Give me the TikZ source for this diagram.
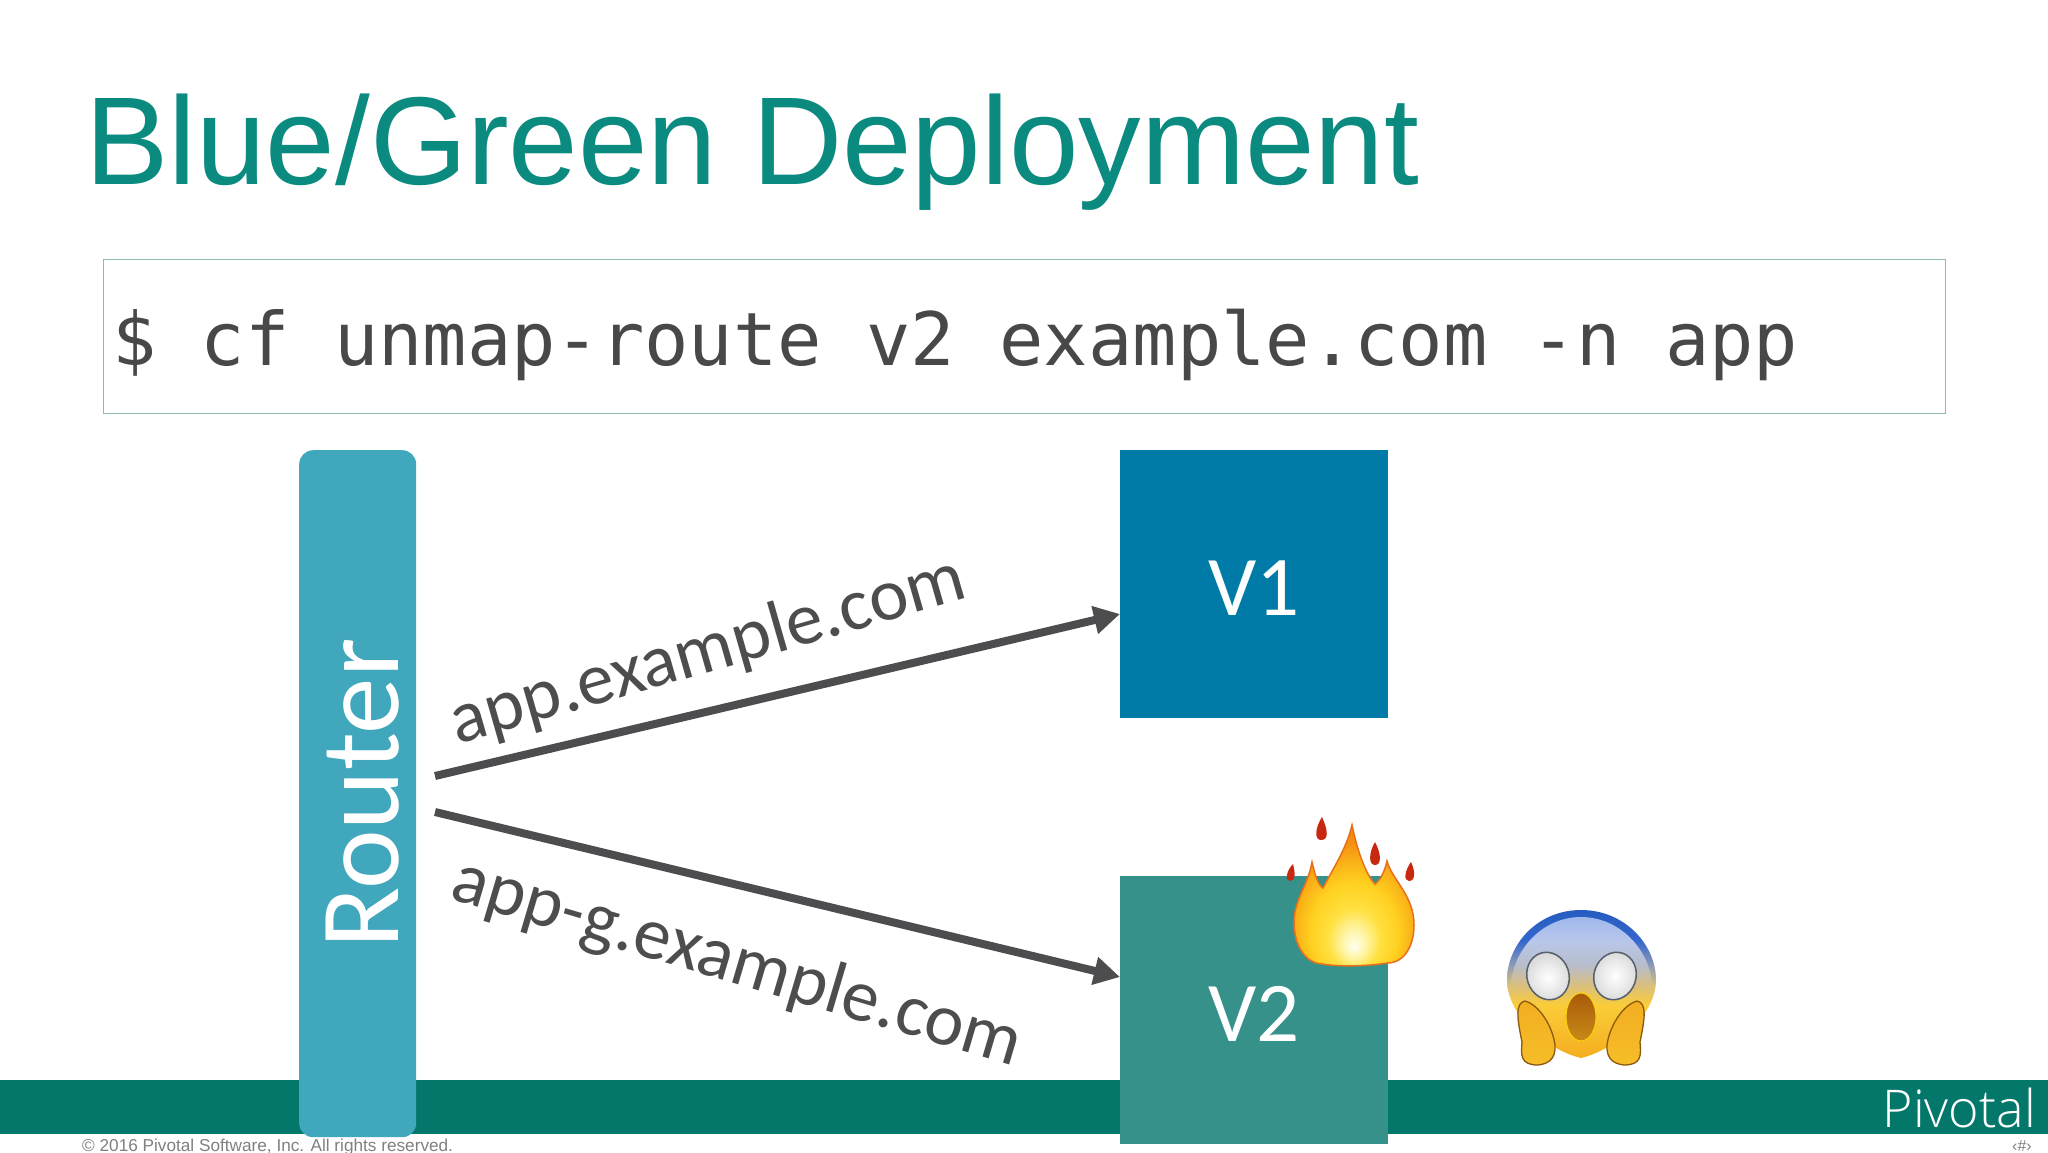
\documentclass[tikz,border=0pt]{standalone}
\usepackage{fontspec}
\setmainfont{Liberation Sans}
\newfontfamily\osl{Open Sans Light}
\newfontfamily\crl{Carlito}
\newfontfamily\dvm{DejaVu Sans Mono}
\usetikzlibrary{arrows.meta}
\definecolor{titleteal}{HTML}{0B8A80}
\definecolor{bandteal}{HTML}{04776B}
\definecolor{routerblue}{HTML}{41A7BC}
\definecolor{vonecol}{HTML}{007BA7}
\definecolor{vtwocol}{HTML}{36918A}
\definecolor{ink}{HTML}{4D4D4F}
\definecolor{cmdink}{HTML}{484848}
\definecolor{cmdedge}{HTML}{8DB8B3}
\definecolor{dropred}{HTML}{C8280F}
\definecolor{flameedge}{HTML}{E9701A}
\definecolor{handedge}{HTML}{8A5A10}
\definecolor{mouthtop}{HTML}{A85A08}
\definecolor{mouthbot}{HTML}{C98A18}
\definecolor{handtop}{HTML}{F2AE22}
\definecolor{handbot}{HTML}{F6BE28}
\definecolor{eyeedge}{HTML}{55606A}
\definecolor{eyeshade}{HTML}{D8D8D8}
\pgfdeclareradialshading{flameglow}{\pgfpoint{0bp}{-18bp}}{%
  rgb(0bp)=(1,1,0.95); rgb(5bp)=(1,0.96,0.65);
  rgb(11bp)=(1,0.88,0.25); rgb(18bp)=(1,0.82,0.13); rgb(24bp)=(0.98,0.70,0.09); rgb(29bp)=(0.96,0.57,0.06); rgb(38bp)=(0.93,0.46,0.08); rgb(70bp)=(0.85,0.3,0.05)}
\pgfdeclareverticalshading{scaredface}{100bp}{%
  rgb(0bp)=(0.96,0.68,0.12); rgb(25bp)=(0.96,0.68,0.12); rgb(42.9bp)=(0.98,0.80,0.22);
  rgb(49.7bp)=(0.85,0.75,0.50); rgb(56.4bp)=(0.55,0.60,0.72); rgb(64.9bp)=(0.20,0.40,0.80);
  rgb(75bp)=(0.15,0.36,0.75); rgb(100bp)=(0.15,0.36,0.75)}
\pgfdeclareverticalshading{faceglass}{100bp}{%
  rgb(0bp)=(0.85,0.75,0.50); rgb(25bp)=(0.85,0.75,0.50); rgb(39.7bp)=(0.72,0.74,0.80);
  rgb(58bp)=(0.72,0.78,0.92); rgb(75bp)=(0.62,0.72,0.92); rgb(100bp)=(0.62,0.72,0.92)}
\tikzset{
  box/.style={minimum width=268pt,minimum height=268pt,inner sep=0pt,text=white,text height=62pt,text depth=0pt,font=\crl\fontsize{85}{85}\selectfont},
  flow/.style={draw=ink,line width=8pt,-{Triangle[length=26pt,width=27pt]}},
  urlabel/.style={text=ink,inner sep=0pt,font=\crl\fontsize{74}{74}\selectfont},
  drop/.style={fill=dropred},
  eye/.style={inner color=white,outer color=eyeshade,draw=eyeedge,line width=1.5pt},
  hand/.style={top color=handtop,bottom color=handbot,draw=handedge,line width=1.3pt},
}
\begin{document}
\begin{tikzpicture}[x=1pt,y=-1pt]
\useasboundingbox (0,0) rectangle (2048,1152);
\clip (0,0) rectangle (2048,1152);
\fill[white] (0,0) rectangle (2048,1152);
\node[anchor=base west,inner sep=0pt,text=titleteal,font=\fontsize{125}{125}\selectfont] (title) at (85,184) {Blue/Green Deployment};
\node[draw=cmdedge,line width=1pt,minimum width=1842pt,minimum height=154pt,inner sep=0pt,anchor=north west] (cmdbox) at (103,259) {};
\node[anchor=base west,inner sep=0pt,text=cmdink,font=\dvm\fontsize{73.7}{76}\selectfont] (cmd) at (112,365) {\$ cf unmap-route v2 example.com -n app};
\fill[bandteal] (0,1080) rectangle (2048,1134);
\node[anchor=base west,inner sep=0pt,text=gray,font=\fontsize{17.2}{17}\selectfont] (copy) at (82,1151) {© 2016 Pivotal Software, Inc.  All rights reserved.};
\node[anchor=north,inner sep=0pt,text=gray,font=\fontsize{16}{16}\selectfont] (num) at (2022,1140) {‹\#›};
\node[anchor=base east,inner sep=0pt,text=white,font=\osl\fontsize{52}{52}\selectfont] (pivotal) at (2036,1127) {Pivotal};
\node[fill=routerblue,rounded corners=14pt,minimum width=117pt,minimum height=687pt,inner sep=0pt,anchor=north west] (router) at (299,450) {};
\node[rotate=90,anchor=base west,inner sep=0pt,text=white,font=\crl\fontsize{113}{113}\selectfont] (routertext) at (398,949) {Router};
\node[box,fill=vonecol,anchor=north west] (v1) at (1120,450) {V1};
\node[box,fill=vtwocol,anchor=north west] (v2) at (1120,876) {V2};
\coordinate (a1) at (435,776);
\coordinate (a2) at (v1.north west |- 0,614);
\coordinate (b1) at (435,812);
\coordinate (b2) at (v2.north west |- 0,977);
\draw[flow] (a1) -- (a2);
\draw[flow] (b1) -- (b2);
\node[urlabel,rotate=16] (u1) at (708,652) {app.example.com};
\node[urlabel,rotate=-16.5] (u2) at (737,964) {app-g.example.com};
% flame
\fill[drop] (1322,817) .. controls (1328,830) and (1329,840) .. (1321,840) .. controls (1314,840) and (1315,828) .. (1322,817) -- cycle;
\fill[drop] (1375,842) .. controls (1381,853) and (1382,865) .. (1375,865) .. controls (1368,865) and (1369,852) .. (1375,842) -- cycle;
\fill[drop] (1293,864) .. controls (1295,872) and (1296,881) .. (1290,881) .. controls (1285,881) and (1286,871) .. (1293,864) -- cycle;
\fill[drop] (1411,862) .. controls (1415,870) and (1416,881) .. (1409,881) .. controls (1403,881) and (1405,870) .. (1411,862) -- cycle;
\shade[shading=flameglow,draw=flameedge,line width=1.5pt]
  (1352,825) .. controls (1357,850) and (1366,875) .. (1375,884)
  .. controls (1381,880) and (1385,870) .. (1387,861)
  .. controls (1392,880) and (1414,895) .. (1414,925)
  .. controls (1414,945) and (1405,963) .. (1387,963)
  .. controls (1370,966) and (1340,967) .. (1322,964)
  .. controls (1305,963) and (1294,945) .. (1294,922)
  .. controls (1294,900) and (1308,885) .. (1312,862)
  .. controls (1315,875) and (1318,885) .. (1323,888)
  .. controls (1332,870) and (1346,850) .. (1352,825) -- cycle;
% face
\shade[shading=scaredface]
  (1581,910) .. controls (1625,910) and (1656,945) .. (1656,980)
  .. controls (1656,1015) and (1615,1050) .. (1581,1058)
  .. controls (1547,1050) and (1507,1015) .. (1507,980)
  .. controls (1507,945) and (1537,910) .. (1581,910) -- cycle;
\shade[shading=faceglass]
  (1581,917) .. controls (1620,917) and (1650,950) .. (1652,985)
  -- (1511,985) .. controls (1513,950) and (1542,917) .. (1581,917) -- cycle;
\shade[eye,rotate around={18:(1548,976)}] (1548,976) ellipse [x radius=21,y radius=24];
\shade[eye,rotate around={-18:(1615,976)}] (1615,976) ellipse [x radius=21,y radius=24];
\shade[top color=mouthtop,bottom color=mouthbot,draw=yellow!70!orange,line width=1pt] (1581,1017) ellipse [x radius=15,y radius=24];
\shade[hand]
  (1525,1001) .. controls (1540,1005) and (1553,1028) .. (1555,1045)
  .. controls (1556,1060) and (1547,1064) .. (1538,1065)
  .. controls (1520,1065) and (1521,1055) .. (1522,1042)
  .. controls (1517,1018) and (1515,1003) .. (1525,1001) -- cycle;
\shade[hand]
  (1637,1001) .. controls (1622,1005) and (1609,1028) .. (1607,1045)
  .. controls (1606,1060) and (1615,1064) .. (1624,1065)
  .. controls (1642,1065) and (1641,1055) .. (1640,1042)
  .. controls (1645,1018) and (1647,1003) .. (1637,1001) -- cycle;
\end{tikzpicture}
\end{document}
